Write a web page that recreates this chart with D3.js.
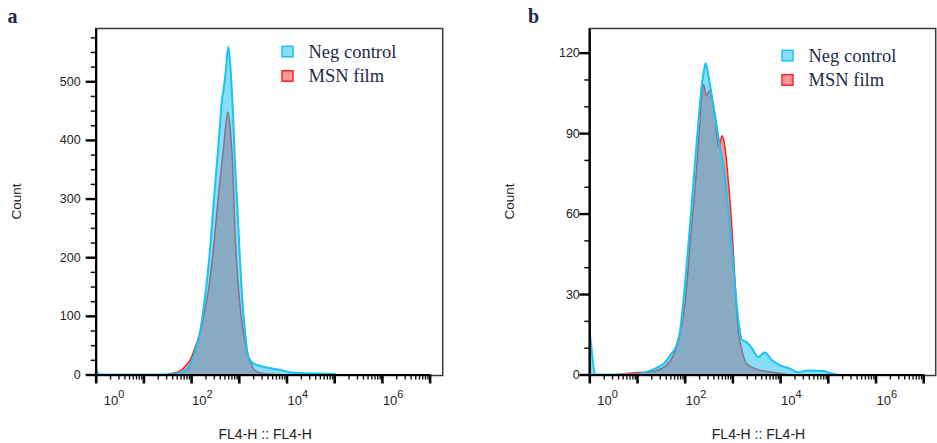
<!DOCTYPE html>
<html><head><meta charset="utf-8">
<script src="https://cdn.jsdelivr.net/npm/d3@7"></script>
<style>body{margin:0;background:#fff}svg{display:block}</style>
</head><body>
<svg id="chart" width="937" height="443"></svg>
<script>
// ---------- DATA (x = log10 FL4-H, y = count) ----------
// Panel a, Neg control
const negA_log   = [0, 0.08, 1.35, 1.66, 1.77, 1.91, 1.98, 2.08, 2.19, 2.29, 2.40, 2.47, 2.54, 2.61, 2.64, 2.68, 2.73, 2.78, 2.82, 2.85, 2.88, 2.92, 2.96, 3.03, 3.09, 3.13, 3.20, 3.31, 3.44, 3.65, 3.86, 4.07, 4.28, 4.70, 4.97, 5.04];
const negA_count = [8, 0, 0, 1, 3, 8, 17, 38, 74, 131, 216, 291, 359, 430, 465, 485, 520, 559, 530, 490, 444, 360, 302, 188, 110, 74, 30, 19, 15, 11, 8, 4, 2.5, 1.5, 1, 0];
// Panel a, MSN film
const msnA_log   = [1.49, 1.66, 1.77, 1.91, 1.98, 2.08, 2.19, 2.29, 2.36, 2.47, 2.57, 2.68, 2.77, 2.82, 2.87, 2.92, 3.01, 3.09, 3.20, 3.30, 3.40, 3.59, 3.86];
const msnA_count = [0, 3, 6, 17, 25, 45, 72, 110, 142, 216, 302, 387, 447, 420, 359, 245, 131, 74, 31, 11, 4, 1, 0];
// Panel b, Neg control
const negB_log   = [0, 0.057, 0.12, 0.99, 1.17, 1.41, 1.59, 1.69, 1.83, 1.90, 1.97, 2.08, 2.18, 2.29, 2.36, 2.40, 2.44, 2.49, 2.55, 2.64, 2.74, 2.85, 2.91, 2.99, 3.05, 3.12, 3.20, 3.30, 3.40, 3.54, 3.68, 3.82, 3.99, 4.21, 4.38, 4.56, 4.91, 5.04, 5.19];
const negB_count = [18, 8, 0, 0, 0.8, 2.5, 4.5, 7, 11, 16, 27, 49, 71, 95, 108, 113, 116, 112, 106, 96, 85, 73, 62, 47, 34, 21, 13, 12, 10, 6.5, 8.2, 5.5, 3.5, 2.2, 0.8, 1.5, 1.3, 0.6, 0];
// Panel b, MSN film
const msnB_log   = [0.57, 0.85, 1.17, 1.34, 1.59, 1.76, 1.90, 2.01, 2.11, 2.25, 2.32, 2.37, 2.40, 2.45, 2.53, 2.57, 2.64, 2.70, 2.74, 2.78, 2.81, 2.85, 2.92, 2.99, 3.05, 3.12, 3.20, 3.30, 3.51, 3.86, 4.14];
const msnB_count = [0, 0.5, 0.8, 1.2, 3, 7, 15, 27, 48, 77, 94, 106, 108, 104, 106, 103, 96, 85, 86, 89, 88, 84, 71, 55, 36, 17, 9, 4, 2, 0.8, 0];

const seriesNames = ["Neg control", "MSN film"];
const panelLetters = ["a", "b"];
const yMaxA = 590, yMaxB = 129;
const yTicksA = [0, 100, 200, 300, 400, 500];
const yTicksB = [0, 30, 60, 90, 120];
const yMinorStepA = 25, yMinorStepB = 10;
const xMajorExps = [0, 1, 2, 3, 4, 5, 6, 7];
const xLabelExps = [0, 2, 4, 6];
const xTitle = "FL4-H :: FL4-H";
const yTitle = "Count";

// ---------- DRAWING ----------
const svg = d3.select("#chart");
const SANS = "'Liberation Sans', Arial, sans-serif";
const SERIF = "'Liberation Serif', 'Times New Roman', serif";
const NAVY = "#1c2b4a";
const TOP = 28.5, BASE = 374.5, FRAME_BOTTOM = 375.5, DECADE = 47.7;

const negFill = "rgba(20,190,240,0.5)", negStroke = "#19c3f3";
const msnFill = "rgba(255,0,0,0.41)", msnStroke = "#ff2424";

const zip = (a, b) => a.map((v, i) => [v, b[i]]);

const panels = [
  { letter: panelLetters[0], left: 95.7, right: 442.7, yMax: yMaxA, yTicks: yTicksA, minor: yMinorStepA,
    neg: zip(negA_log, negA_count), msn: zip(msnA_log, msnA_count),
    yLabelGap: 15, letterX: 7.5, legX: 282, legY: 57.5 },
  { letter: panelLetters[1], left: 589.3, right: 935.7, yMax: yMaxB, yTicks: yTicksB, minor: yMinorStepB,
    neg: zip(negB_log, negB_count), msn: zip(msnB_log, msnB_count),
    yLabelGap: 9.5, letterX: 528, legX: 782, legY: 61.5 }
];

panels.forEach((p, i) => {
  const g = svg.append("g");
  const x = d3.scaleLog().domain([1, 1e7]).range([p.left, p.left + 7 * DECADE]);
  const y = d3.scaleLinear().domain([0, p.yMax]).range([BASE, TOP]);

  const clipId = "clip" + i;
  svg.append("clipPath").attr("id", clipId).append("rect")
    .attr("x", p.left).attr("y", TOP).attr("width", p.right - p.left).attr("height", BASE - TOP);

  const area = d3.area().x(d => x(Math.pow(10, d[0]))).y0(BASE).y1(d => y(d[1])).curve(d3.curveMonotoneX);
  const line = d3.line().x(d => x(Math.pow(10, d[0]))).y(d => y(d[1])).curve(d3.curveMonotoneX);

  const plot = g.append("g").attr("clip-path", `url(#${clipId})`);
  plot.append("path").attr("d", area(p.msn)).attr("fill", msnFill);
  plot.append("path").attr("d", line(p.msn)).attr("fill", "none").attr("stroke", msnStroke).attr("stroke-width", 1.5);
  plot.append("path").attr("d", area(p.neg)).attr("fill", negFill);
  plot.append("path").attr("d", line(p.neg)).attr("fill", "none").attr("stroke", negStroke).attr("stroke-width", 2);

  // frame
  g.append("rect").attr("x", p.left).attr("y", TOP).attr("width", p.right - p.left).attr("height", FRAME_BOTTOM - TOP)
    .attr("fill", "none").attr("stroke", "#3a3a3a").attr("stroke-width", 1.5);

  // y axis minor
  const yMinor = d3.range(0, p.yMax, p.minor).filter(v => !p.yTicks.includes(v));
  g.append("g").attr("transform", `translate(${p.left},0)`)
    .call(d3.axisLeft(y).tickValues(yMinor).tickSize(5).tickFormat("").tickSizeOuter(0))
    .call(a => a.select(".domain").remove())
    .call(a => a.selectAll("line").attr("stroke", "#111").attr("stroke-width", 1.5));
  // y axis major
  const ya = g.append("g").attr("transform", `translate(${p.left},0)`)
    .call(d3.axisLeft(y).tickValues(p.yTicks).tickSize(10).tickSizeOuter(0).tickPadding(p.yLabelGap - 10));
  ya.select(".domain").attr("stroke", "#000").attr("stroke-width", 2.2);
  ya.selectAll("line").attr("stroke", "#000").attr("stroke-width", 2.4);
  ya.selectAll("text").attr("font-family", SANS).attr("font-size", 12.5).attr("fill", "#222");

  // x axis minor
  const xMinor = [];
  for (let e = 0; e < 7; e++) for (let k = 2; k <= 9; k++) xMinor.push(k * Math.pow(10, e));
  g.append("g").attr("transform", `translate(0,${BASE})`)
    .call(d3.axisBottom(x).tickValues(xMinor).tickSize(5).tickFormat("").tickSizeOuter(0))
    .call(a => a.select(".domain").remove())
    .call(a => a.selectAll("line").attr("stroke", "#111").attr("stroke-width", 1.4));
  // x axis major
  const xa = g.append("g").attr("transform", `translate(0,${BASE})`)
    .call(d3.axisBottom(x).tickValues(xMajorExps.map(e => Math.pow(10, e))).tickSize(9).tickFormat("").tickSizeOuter(0));
  xa.select(".domain").attr("stroke", "#000").attr("stroke-width", 2.2);
  xa.selectAll("line").attr("stroke", "#000").attr("stroke-width", 2.6);

  // x labels
  xLabelExps.forEach(e => {
    const t = g.append("text").attr("x", x(Math.pow(10, e)) + (e === 0 ? 8 : 1)).attr("y", 405)
      .attr("font-family", SANS).attr("font-size", 13).attr("fill", "#222");
    t.append("tspan").text("10");
    t.append("tspan").attr("dy", -7).attr("font-size", 11).text(String(e));
  });

  // axis titles
  g.append("text").attr("transform", `translate(${p.left - 75},201.5) rotate(-90)`)
    .attr("text-anchor", "middle").attr("font-family", SANS).attr("font-size", 13.5).attr("fill", "#222").text(yTitle);
  g.append("text").attr("x", (p.left + p.right) / 2 - 4).attr("y", 439)
    .attr("text-anchor", "middle").attr("font-family", SANS).attr("font-size", 14).attr("fill", "#222").text(xTitle);

  // legend
  const legFills = [negFill, msnFill], legStrokes = [negStroke, msnStroke];
  seriesNames.forEach((name, j) => {
    const by = p.legY + j * 24.4;
    g.append("rect").attr("x", p.legX).attr("y", by - 11.2).attr("width", 11).attr("height", 10.5)
      .attr("fill", legFills[j]).attr("stroke", legStrokes[j]).attr("stroke-width", 1.5);
    g.append("text").attr("x", p.legX + 26.5).attr("y", by)
      .attr("font-family", SERIF).attr("font-size", 18.5).attr("fill", NAVY).text(name);
  });

  // panel letter
  g.append("text").attr("x", p.letterX).attr("y", 23).attr("font-family", SERIF).attr("font-weight", "bold")
    .attr("font-size", 20).attr("fill", NAVY).text(p.letter);
});
</script>
</body></html>
